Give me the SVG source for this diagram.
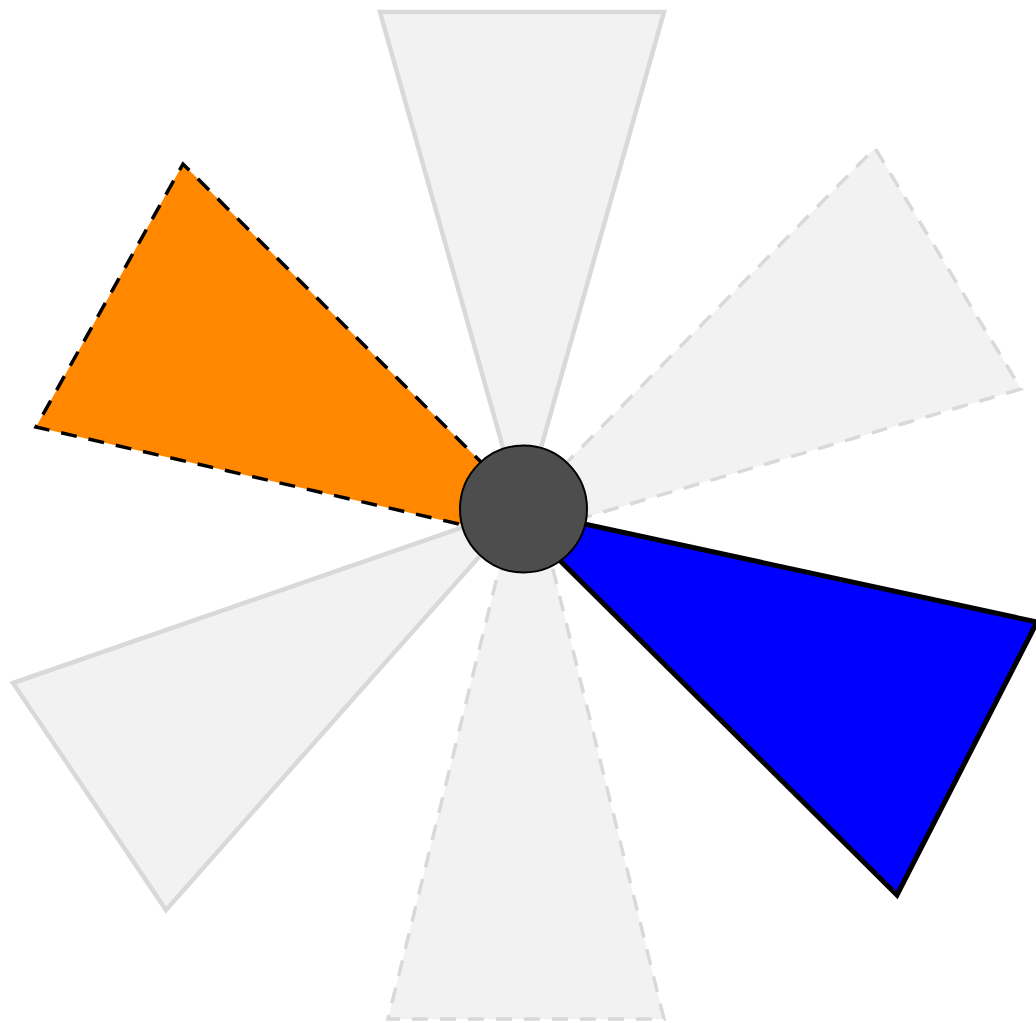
<svg xmlns="http://www.w3.org/2000/svg" width="1036" height="1023" viewBox="0 0 1036 1023">
<style>
.g{fill:#f2f2f2;stroke:#d9d9d9;stroke-width:4.5;stroke-linejoin:miter}
.gd{fill:#f2f2f2;stroke:#d9d9d9;stroke-width:3.5;stroke-dasharray:16 12}
</style>
<rect width="1036" height="1023" fill="#fff"/>
<g id="blade-top"><polygon class="g" points="522,515 380,12 664,12"/></g>
<g id="blade-topright"><polygon class="gd" points="484,547 875,148 1021,389"/></g>
<g id="blade-bottom"><polygon class="gd" points="526,460 664,1019 388,1019"/></g>
<g id="blade-bottomleft"><polygon class="g" points="524,506 166,910 13,683"/></g>
<g id="blade-orange"><polygon points="568,549 36,427 183,164" fill="#ff8800" stroke="#000" stroke-width="3.5" stroke-dasharray="16 12"/></g>
<g id="blade-blue"><polygon points="506,507 1037,622 897,895" fill="#0000ff" stroke="#000" stroke-width="5"/></g>
<g id="hub"><circle cx="523.5" cy="509" r="63.5" fill="#4d4d4d" stroke="#000" stroke-width="2"/></g>
</svg>
